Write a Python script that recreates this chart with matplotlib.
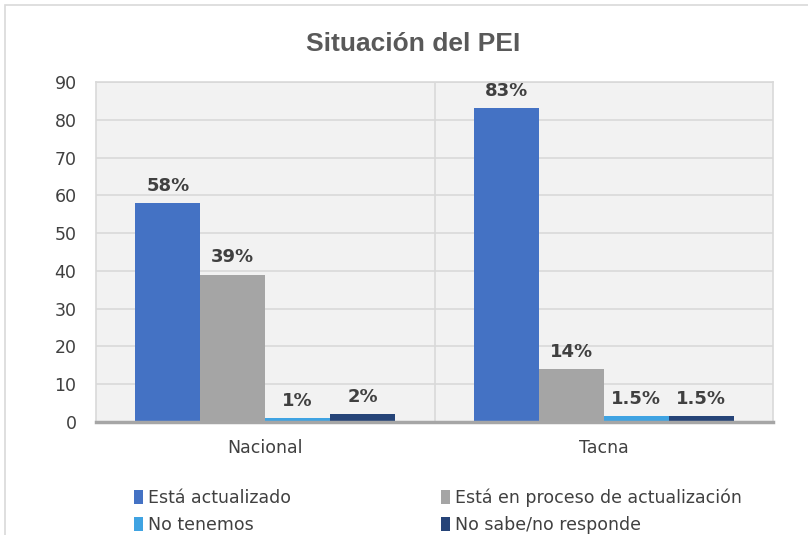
import numpy as np
import matplotlib.pyplot as plt
from matplotlib.patches import Rectangle

# Datos
categorias = ["Nacional", "Tacna"]
series = ["Está actualizado", "Está en proceso de actualización",
          "No tenemos", "No sabe/no responde"]
valores = [[58, 83], [39, 14], [1, 1.5], [2, 1.5]]
etiquetas = [["58%", "83%"], ["39%", "14%"], ["1%", "1.5%"], ["2%", "1.5%"]]
colores = ["#4472C4", "#A5A5A5", "#3FA3E2", "#264478"]

fig = plt.figure(figsize=(8.08, 5.35), dpi=100)
ax = fig.add_axes([96 / 808, 1 - 422 / 535, (773 - 96) / 808, (422 - 82) / 535])

# marco del grafico (recortado abajo y a la derecha)
fig.patches.append(Rectangle((5 / 808, -0.1), 1.2, 1 - 5 / 535 + 0.1,
                             transform=fig.transFigure, fill=False,
                             edgecolor="#d9d9d9", linewidth=1.2))

ax.set_facecolor("#f2f2f2")
x = np.arange(len(categorias))
ancho = 65 / 339
barras = []
for i in range(len(series)):
    pos = x + (i - 1.5) * ancho
    b = ax.bar(pos, valores[i], width=ancho, color=colores[i], label=series[i], zorder=3)
    barras.append(b)
    for j in range(len(categorias)):
        ax.annotate(etiquetas[i][j], (pos[j], valores[i][j]), xytext=(0, 6),
                    textcoords="offset points", ha="center", va="bottom",
                    fontsize=13, fontweight="bold", color="#404040",
                    family="DejaVu Sans")

ax.set_xlim(-0.5, 1.5)
ax.set_ylim(0, 90)
ax.set_yticks(range(0, 91, 10))
ax.set_xticks(x)
ax.set_xticklabels(categorias, fontsize=12.5, color="#404040")
for t in ax.get_yticklabels():
    t.set_fontsize(12.5)
    t.set_color("#404040")
ax.tick_params(axis="both", length=0)
ax.tick_params(axis="y", pad=14)
ax.tick_params(axis="x", pad=12)

ax.grid(axis="y", color="#d9d9d9", linewidth=1.2, zorder=0)
ax.axvline(0.5, color="#d9d9d9", linewidth=1.2, zorder=0)
for s in ["top", "left", "right"]:
    ax.spines[s].set_color("#d9d9d9")
    ax.spines[s].set_linewidth(1.2)
ax.spines["bottom"].set_color("#a6a6a6")
ax.spines["bottom"].set_linewidth(2.5)
ax.spines["bottom"].set_zorder(4)

fig.text(413 / 808, 1 - 44 / 535, "Situación del PEI", ha="center", va="center",
         fontsize=19, fontweight="bold", color="#595959", family="Liberation Sans")

# orden por filas como en el original
orden = [0, 2, 1, 3]
fig.legend([barras[k] for k in orden], [series[k] for k in orden],
           loc="upper left", bbox_to_anchor=(118 / 808, 1 - 473 / 535), ncol=2,
           frameon=False, handlelength=0.55, handleheight=0.9, handletextpad=0.3,
           columnspacing=8.6, labelspacing=0.5,
           prop={"size": 12.5}, labelcolor="#404040")

fig.savefig("out.png", dpi=100, facecolor="white")
